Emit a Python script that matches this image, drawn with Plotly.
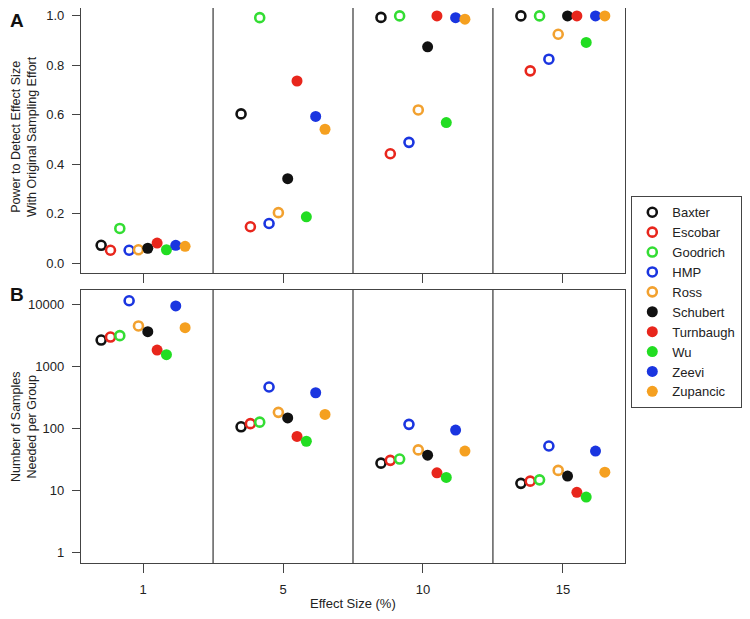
import numpy as np
import plotly.graph_objects as go
from plotly.subplots import make_subplots

# effect size groups (x axis)
effect_sizes = ['1', '5', '10', '15']

studies = ['Baxter', 'Escobar', 'Goodrich', 'HMP', 'Ross',
           'Schubert', 'Turnbaugh', 'Wu', 'Zeevi', 'Zupancic']
colors = ['#111111', '#e8261c', '#33dd33', '#1a35e0', '#f2a12f',
          '#111111', '#e8261c', '#22dd22', '#1a35e0', '#f5a020']
open_marker = [True, True, True, True, True, False, False, False, False, False]

# power with original sampling effort, one list per study (effect 1, 5, 10, 15)
power = {
    'Baxter':    [0.073, 0.604, 0.994, 1.000],
    'Escobar':   [0.053, 0.148, 0.443, 0.778],
    'Goodrich':  [0.141, 0.993, 1.000, 1.000],
    'HMP':       [0.053, 0.161, 0.489, 0.825],
    'Ross':      [0.055, 0.205, 0.620, 0.926],
    'Schubert':  [0.061, 0.342, 0.875, 1.000],
    'Turnbaugh': [0.082, 0.737, 1.000, 1.000],
    'Wu':        [0.055, 0.188, 0.569, 0.893],
    'Zeevi':     [0.073, 0.594, 0.993, 1.000],
    'Zupancic':  [0.069, 0.542, 0.987, 1.000],
}

# samples needed per group
samples = {
    'Baxter':    [2650, 106, 27.5, 13.0],
    'Escobar':   [2960, 119, 30.5, 14.1],
    'Goodrich':  [3120, 126, 32.0, 14.8],
    'HMP':       [11400, 464, 116, 52],
    'Ross':      [4470, 181, 45, 21],
    'Schubert':  [3610, 147, 37, 17],
    'Turnbaugh': [1830, 74, 19.2, 9.3],
    'Wu':        [1540, 62, 16.2, 7.8],
    'Zeevi':     [9400, 375, 94, 43],
    'Zupancic':  [4200, 168, 43, 19.7],
}

font = 'Liberation Sans, Arial, sans-serif'
axis_col = '#444444'

# page has an 8px body margin, so the figure is a bit smaller than the window
W, H = 734, 603
OFF = 8


def px(x):
    return min(1, max(0, (x - OFF) / W))


def py(y):
    return min(1, max(0, 1 - (y - OFF) / H))


fig = make_subplots(rows=2, cols=1)

group_pos = np.arange(1, len(effect_sizes) + 1)
step = 0.6 / (len(studies) - 1)

for i, s in enumerate(studies):
    xs = group_pos + (i - (len(studies) - 1) / 2) * step
    if open_marker[i]:
        mk = dict(symbol='circle-open', size=9, color=colors[i], line=dict(width=2.6, color=colors[i]))
    else:
        mk = dict(symbol='circle', size=11, color=colors[i], line=dict(width=0))
    fig.add_trace(go.Scatter(x=xs, y=power[s], mode='markers', marker=mk, cliponaxis=False,
                             name=s, legendgroup=s), row=1, col=1)
    fig.add_trace(go.Scatter(x=xs, y=samples[s], mode='markers', marker=mk, cliponaxis=False,
                             name=s, legendgroup=s, showlegend=False), row=2, col=1)

xdom = [px(81), px(625)]
ydomA = [py(273), py(8)]
ydomB = [py(563), py(290)]

common_x = dict(range=[0.556, 4.444], tickvals=list(group_pos), ticks='outside', ticklen=9,
                tickcolor=axis_col, showline=True, linecolor=axis_col, linewidth=1.3,
                mirror=True, showgrid=False, zeroline=False, domain=xdom, automargin=False,
                tickfont=dict(size=13, color='#222222'))
fig.update_xaxes(**common_x, ticktext=['', '', '', ''], row=1, col=1)
fig.update_xaxes(**common_x, ticktext=effect_sizes, ticklabelstandoff=5, row=2, col=1)

common_y = dict(ticks='outside', ticklen=8, tickcolor=axis_col, showline=True, linecolor=axis_col,
                linewidth=1.3, mirror=True, showgrid=False, zeroline=False, automargin=False,
                ticklabelstandoff=5, ticklabeloverflow='allow', tickfont=dict(size=13, color='#222222'))
fig.update_yaxes(**common_y, range=[-0.039, 1.032], tickvals=[0, 0.2, 0.4, 0.6, 0.8, 1.0],
                 tickformat='.1f', domain=ydomA, row=1, col=1)
fig.update_yaxes(**common_y, type='log', range=[-0.17, 4.23], tickvals=[1, 10, 100, 1000, 10000],
                 ticktext=['1', '10', '100', '1000', '10000'], domain=ydomB, row=2, col=1)

# vertical dividers between effect size groups
for xr, yr in [('x', 'y domain'), ('x2', 'y2 domain')]:
    for d in [1.5, 2.5, 3.5]:
        fig.add_shape(type='line', x0=d, x1=d, y0=0, y1=1, xref=xr, yref=yr,
                      line=dict(color=axis_col, width=1.3))

annots = [
    dict(text='<b>A</b>', x=0, y=1, xanchor='left', yanchor='top',
         font=dict(size=19, color='#111111')),
    dict(text='<b>B</b>', x=0, y=py(282), xanchor='left', yanchor='top',
         font=dict(size=19, color='#111111')),
    dict(text='Power to Detect Effect Size<br>With Original Sampling Effort', x=px(24),
         y=py(137), textangle=-90, font=dict(size=12.5, color='#222222')),
    dict(text='Number of Samples<br>Needed per Group', x=px(24),
         y=py(427), textangle=-90, font=dict(size=12.5, color='#222222')),
    dict(text='Effect Size (%)', x=px(353), y=py(603), font=dict(size=13, color='#222222')),
]
for a in annots:
    a.setdefault('xanchor', 'center')
    a.setdefault('yanchor', 'middle')
    fig.add_annotation(xref='paper', yref='paper', showarrow=False, **a)

fig.update_layout(
    width=W, height=H,
    margin=dict(l=0, r=0, t=0, b=0),
    paper_bgcolor='white', plot_bgcolor='white',
    font=dict(family=font, color='#222222'),
    legend=dict(x=1, y=py(196), xanchor='right', yanchor='top',
                bordercolor=axis_col, borderwidth=1.3, bgcolor='white',
                font=dict(size=13, color='#222222'), tracegroupgap=0, itemwidth=30),
)

fig.write_html('out.html')
